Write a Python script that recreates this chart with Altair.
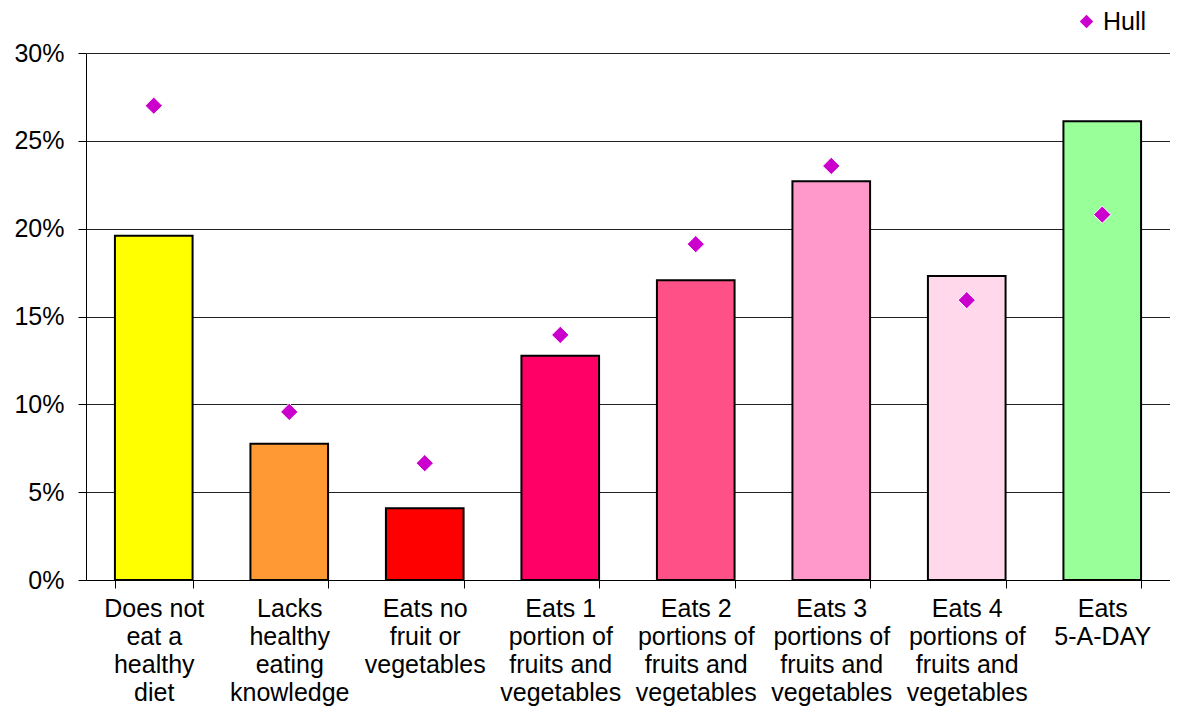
import altair as alt
import pandas as pd

categories = [
    "Does not|eat a|healthy|diet",
    "Lacks|healthy|eating|knowledge",
    "Eats no|fruit or|vegetables",
    "Eats 1|portion of|fruits and|vegetables",
    "Eats 2|portions of|fruits and|vegetables",
    "Eats 3|portions of|fruits and|vegetables",
    "Eats 4|portions of|fruits and|vegetables",
    "Eats|5-A-DAY",
]
bar_values = [0.196, 0.0775, 0.0408, 0.1277, 0.1707, 0.2270, 0.1730, 0.2611]
hull_values = [0.270, 0.0957, 0.0665, 0.1395, 0.1912, 0.2357, 0.1593, 0.2080]
bar_colors = ["#FFFF00", "#FF9933", "#FF0000", "#FF0066", "#FF5088", "#FF99CC", "#FFD9EB", "#99FF99"]
y_ticks = [0.0, 0.05, 0.10, 0.15, 0.20, 0.25, 0.30]
series_name = ["Hull"]
hull_color = ["#CC00CC"]

df = pd.DataFrame({
    "category": categories,
    "value": bar_values,
    "hull": hull_values,
    "color": bar_colors,
    "series": series_name * len(categories),
})

FONT = "Liberation Sans"

x_enc = alt.X(
    "category:N",
    sort=categories,
    scale=alt.Scale(paddingInner=0.427, paddingOuter=0.2135),
    axis=alt.Axis(
        title=None,
        labelAngle=0,
        labelExpr="split(datum.label, '|')",
        tickBand="extent",
        tickSize=8,
        tickColor="black",
        domainColor="black",
        labelFont=FONT,
        labelFontSize=25,
        labelColor="black",
        labelPadding=8,
        labelLineHeight=28,
        labelLimit=300,
        grid=False,
    ),
)

y_scale = alt.Scale(domain=[0, 0.3], nice=False)

bars = alt.Chart(df).mark_bar(stroke="black", strokeWidth=2).encode(
    x=x_enc,
    y=alt.Y(
        "value:Q",
        scale=y_scale,
        axis=alt.Axis(
            title=None,
            values=y_ticks,
            format=".0%",
            tickSize=8,
            tickColor="black",
            domainColor="black",
            gridColor="#222222",
            gridWidth=1,
            grid=True,
            labelFont=FONT,
            labelFontSize=25,
            labelColor="black",
            labelPadding=14,
        ),
    ),
    fill=alt.Fill("color:N", scale=None),
)

points = alt.Chart(df).mark_point(
    shape="diamond", filled=True, size=300, stroke="white", strokeWidth=1, opacity=1
).encode(
    x=alt.X("category:N", sort=categories),
    y=alt.Y("hull:Q", scale=y_scale),
    color=alt.Color(
        "series:N",
        scale=alt.Scale(domain=series_name, range=hull_color),
        legend=alt.Legend(
            title=None,
            orient="none",
            legendX=988,
            legendY=-44,
            padding=0,
            symbolType="diamond",
            symbolSize=180,
            symbolStrokeWidth=0,
            labelFont=FONT,
            labelFontSize=25,
            labelColor="black",
            labelOffset=4,
            labelLimit=200,
        ),
    ),
)

chart = (
    alt.layer(bars, points)
    .properties(
        width=1084,
        height=527,
        autosize=alt.AutoSizeParams(type="none"),
        padding={"left": 78, "top": 45, "right": 0, "bottom": 126},
    )
    .configure_view(stroke=None)
)

chart.save("out.html", embed_options={"renderer": "svg", "actions": False})
